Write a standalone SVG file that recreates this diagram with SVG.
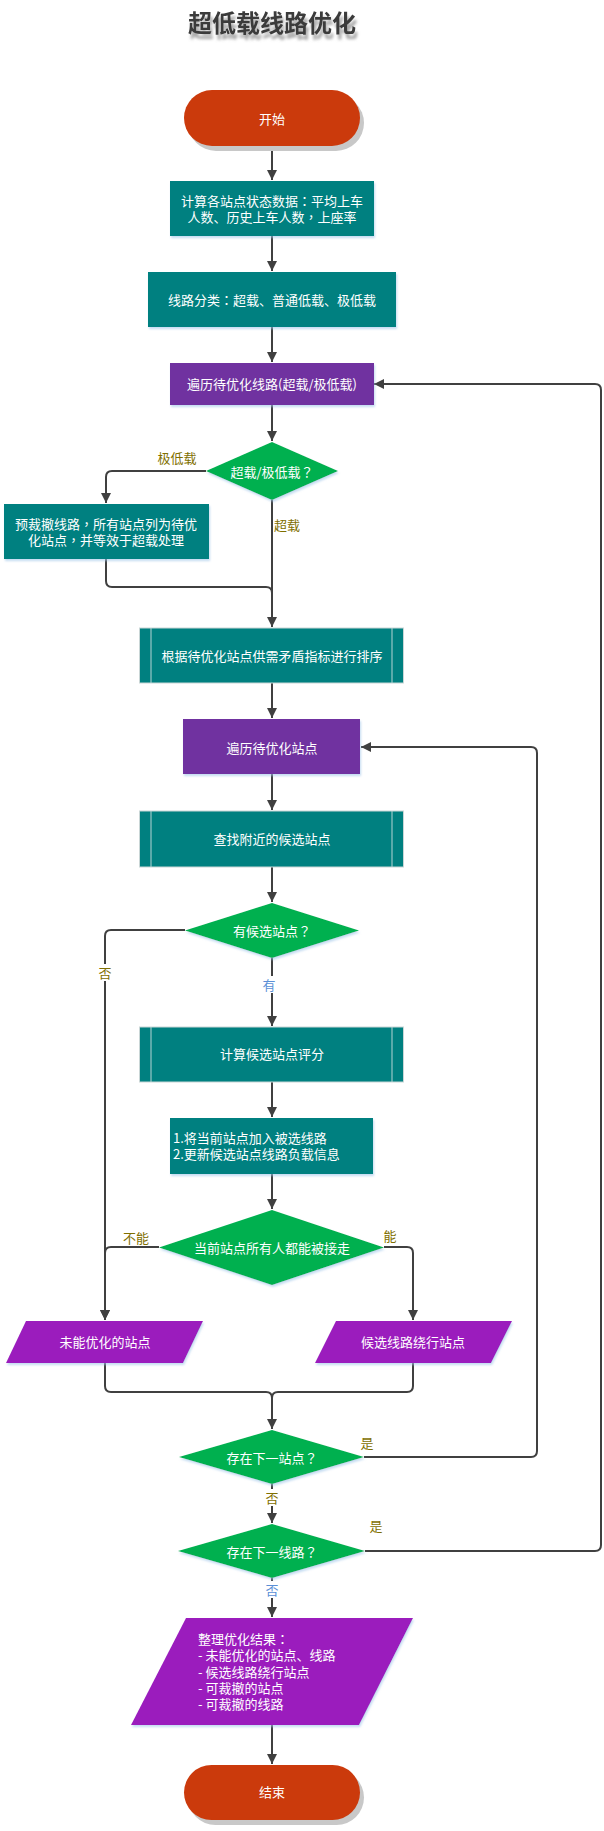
<svg xmlns="http://www.w3.org/2000/svg" width="604" height="1831" viewBox="0 0 604 1831">
<defs>
<marker id="arr" markerUnits="userSpaceOnUse" markerWidth="11" markerHeight="11" refX="10" refY="5.5" orient="auto" viewBox="0 0 11 11">
<path d="M0,0.5 L10,5.5 L0,10.5 z" fill="#404040"/>
</marker>
<filter id="tsh" x="-10%" y="-30%" width="120%" height="180%">
<feDropShadow dx="2" dy="5" stdDeviation="1.5" flood-color="#8a8a8a" flood-opacity="0.8"/>
</filter>
<filter id="bsh" x="-10%" y="-10%" width="120%" height="130%">
<feDropShadow dx="1" dy="2" stdDeviation="1.2" flood-color="#9ec5e8" flood-opacity="0.6"/>
</filter>
</defs>
<style>
text{font-family:"Noto Sans CJK SC","Liberation Sans",sans-serif;font-size:13px;}
.p{font-family:"Noto Sans CJK TC","Noto Sans CJK SC",sans-serif;}
.w{fill:#ffffff;}
.c{text-anchor:middle;dominant-baseline:central;}
.l{dominant-baseline:central;}
.term{fill:#CB3A0C;}
.tsh{fill:#c8c8c8;}
.teal{fill:#008080;filter:url(#bsh);}
.pp{fill:#008080;stroke:#c9d6d6;stroke-width:1;}
.ppl{stroke:#b6d4d4;stroke-width:1;}
.pur{fill:#7030A0;filter:url(#bsh);}
.dia{fill:#00B050;filter:url(#bsh);}
.par{fill:#9B1CBD;filter:url(#bsh);}
.edge{fill:none;stroke:#404040;stroke-width:2;}
.ol{fill:#7F6F00;}
.bl{fill:#5B8FD6;}
</style>
<text x="272" y="32" text-anchor="middle" style="font-size:24px;font-weight:bold;fill:#3a3a3a;filter:url(#tsh);">超低载线路优化</text>

<g id="connectors">
<path class="edge" d="M272,146 V180" marker-end="url(#arr)"/>
<path class="edge" d="M272,236 V271" marker-end="url(#arr)"/>
<path class="edge" d="M272,327 V362" marker-end="url(#arr)"/>
<path class="edge" d="M272,405 V441" marker-end="url(#arr)"/>
<path class="edge" d="M206,471 H112 Q106,471 106,477 V503" marker-end="url(#arr)"/>
<path class="edge" d="M272,500 V627" marker-end="url(#arr)"/>
<path class="edge" d="M106,559 V581 Q106,587 112,587 H266 Q272,587 272,593 V600"/>
<path class="edge" d="M272,683 V718" marker-end="url(#arr)"/>
<path class="edge" d="M272,774 V810" marker-end="url(#arr)"/>
<path class="edge" d="M272,867 V902" marker-end="url(#arr)"/>
<path class="edge" d="M185,930 H111 Q105,930 105,936 V1320" marker-end="url(#arr)"/>
<path class="edge" d="M272,958 V1026" marker-end="url(#arr)"/>
<path class="edge" d="M272,1082 V1117" marker-end="url(#arr)"/>
<path class="edge" d="M272,1174 V1209" marker-end="url(#arr)"/>
<path class="edge" d="M159,1247 H111 Q105,1247 105,1253 V1320" marker-end="url(#arr)"/>
<path class="edge" d="M384,1247 H407 Q413,1247 413,1253 V1320" marker-end="url(#arr)"/>
<path class="edge" d="M105,1363 V1386 Q105,1392 111,1392 H266 Q272,1392 272,1398 V1429" marker-end="url(#arr)"/>
<path class="edge" d="M413,1363 V1386 Q413,1392 407,1392 H278 Q272,1392 272,1398"/>
<path class="edge" d="M364,1457 H531 Q537,1457 537,1451 V753 Q537,747 531,747 H361" marker-end="url(#arr)"/>
<path class="edge" d="M272,1484 V1523" marker-end="url(#arr)"/>
<path class="edge" d="M365,1551 H595 Q601,1551 601,1545 V390 Q601,384 595,384 H374" marker-end="url(#arr)"/>
<path class="edge" d="M272,1578 V1617" marker-end="url(#arr)"/>
<path class="edge" d="M272,1725 V1764" marker-end="url(#arr)"/>
<text class="ol c" x="177" y="457">极低载</text>
<text class="ol c" x="287" y="524">超载</text>
<rect x="97" y="964" width="16" height="17" fill="#ffffff"/>
<text class="ol c" x="105" y="972">否</text>
<rect x="263" y="976" width="16" height="17" fill="#ffffff"/>
<text class="bl c" x="269" y="984">有</text>
<text class="ol c" x="136" y="1237">不能</text>
<text class="ol c" x="390" y="1235">能</text>
<text class="ol c" x="367" y="1442">是</text>
<rect x="264" y="1489" width="16" height="17" fill="#ffffff"/>
<text class="ol c" x="272" y="1497">否</text>
<text class="ol c" x="376" y="1525">是</text>
<rect x="264" y="1581" width="16" height="17" fill="#ffffff"/>
<text class="bl c" x="272" y="1589">否</text>
</g>

<g id="start">
<rect class="tsh" x="188" y="95" width="176" height="56" rx="28"/>
<rect class="term" x="184" y="90" width="176" height="56" rx="28"/>
<text class="w c" x="272" y="118">开始</text>
</g>
<g id="calc-status">
<rect class="teal" x="170" y="181" width="204" height="55"/>
<text class="w c" x="272" y="200">计算各站点状态数据<tspan class="p">：</tspan>平均上车</text>
<text class="w c" x="272" y="216">人数、历史上车人数<tspan class="p">，</tspan>上座率</text>
</g>
<g id="classify">
<rect class="teal" x="148" y="272" width="248" height="55"/>
<text class="w c" x="272" y="299">线路分类<tspan class="p">：</tspan>超载、普通低载、极低载</text>
</g>
<g id="loop-lines">
<rect class="pur" x="170" y="363" width="204" height="42"/>
<text class="w c" x="272" y="383">遍历待优化线路(超载/极低载)</text>
</g>
<g id="dec-type">
<polygon class="dia" points="272,442 338,471 272,500 206,471"/>
<text class="w c" x="272" y="471">超载/极低载<tspan class="p">？</tspan></text>
</g>
<g id="pre-cut">
<rect class="teal" x="4" y="504" width="205" height="55"/>
<text class="w c" x="106" y="523">预裁撤线路<tspan class="p">，</tspan>所有站点列为待优</text>
<text class="w c" x="106" y="539">化站点<tspan class="p">，</tspan>并等效于超载处理</text>
</g>
<g id="sort">
<rect class="pp" x="139.5" y="628" width="264" height="55"/>
<line class="ppl" x1="151" y1="628" x2="151" y2="683"/>
<line class="ppl" x1="392" y1="628" x2="392" y2="683"/>
<text class="w c" x="272" y="655">根据待优化站点供需矛盾指标进行排序</text>
</g>
<g id="loop-stations">
<rect class="pur" x="183" y="719" width="177" height="55"/>
<text class="w c" x="272" y="747">遍历待优化站点</text>
</g>
<g id="find">
<rect class="pp" x="139.5" y="811" width="264" height="56"/>
<line class="ppl" x1="151" y1="811" x2="151" y2="867"/>
<line class="ppl" x1="392" y1="811" x2="392" y2="867"/>
<text class="w c" x="272" y="838">查找附近的候选站点</text>
</g>
<g id="dec-cand">
<polygon class="dia" points="272,903 359,930.5 272,958 185,930.5"/>
<text class="w c" x="272" y="930">有候选站点<tspan class="p">？</tspan></text>
</g>
<g id="score">
<rect class="pp" x="139.5" y="1027" width="264" height="55"/>
<line class="ppl" x1="151" y1="1027" x2="151" y2="1082"/>
<line class="ppl" x1="392" y1="1027" x2="392" y2="1082"/>
<text class="w c" x="272" y="1053">计算候选站点评分</text>
</g>
<g id="update">
<rect class="teal" x="170" y="1118" width="203" height="56"/>
<text class="w l" x="173" y="1137">1.将当前站点加入被选线路</text>
<text class="w l" x="173" y="1153">2.更新候选站点线路负载信息</text>
</g>
<g id="dec-all">
<polygon class="dia" points="272,1210 384,1247.5 272,1285 159,1247.5"/>
<text class="w c" x="272" y="1247">当前站点所有人都能被接走</text>
</g>
<g id="not-opt">
<polygon class="par" points="26,1321 203,1321 183,1363 6,1363"/>
<text class="w c" x="105" y="1341">未能优化的站点</text>
</g>
<g id="detour">
<polygon class="par" points="336,1321 512,1321 491,1363 315,1363"/>
<text class="w c" x="413" y="1341">候选线路绕行站点</text>
</g>
<g id="dec-next-station">
<polygon class="dia" points="272,1430 364,1457 272,1484 179,1457"/>
<text class="w c" x="272" y="1457">存在下一站点<tspan class="p">？</tspan></text>
</g>
<g id="dec-next-line">
<polygon class="dia" points="272,1524 365,1551 272,1578 178,1551"/>
<text class="w c" x="272" y="1551">存在下一线路<tspan class="p">？</tspan></text>
</g>
<g id="result">
<polygon class="par" points="186,1618 413,1618 359,1725 131,1725"/>
<text class="w l" x="198" y="1638">整理优化结果<tspan class="p">：</tspan></text>
<text class="w l" x="198" y="1654.5">- 未能优化的站点、线路</text>
<text class="w l" x="198" y="1671">- 候选线路绕行站点</text>
<text class="w l" x="198" y="1687">- 可裁撤的站点</text>
<text class="w l" x="198" y="1703">- 可裁撤的线路</text>
</g>
<g id="end">
<rect class="tsh" x="188" y="1770" width="176" height="55" rx="27.5"/>
<rect class="term" x="184" y="1765" width="176" height="55" rx="27.5"/>
<text class="w c" x="272" y="1791">结束</text>
</g>
</svg>
